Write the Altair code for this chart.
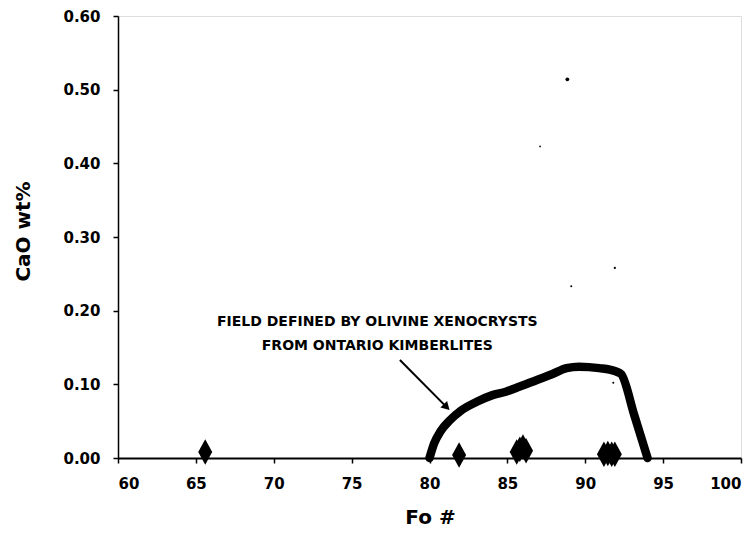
import altair as alt
import pandas as pd

# Field outline (olivine xenocrysts from Ontario kimberlites)
field_fo = [80.0, 80.3, 80.7, 81.3, 82.0, 83.0, 84.0, 84.9, 85.8, 86.9, 87.9, 88.8, 89.6, 90.9, 91.9, 92.3, 93.15, 94.0]
field_cao = [0.0, 0.020, 0.036, 0.051, 0.064, 0.076, 0.085, 0.090, 0.097, 0.106, 0.114, 0.122, 0.124, 0.122, 0.118, 0.114, 0.058, 0.0]

# Olivine analyses (diamonds)
pts_fo = [65.6, 81.9, 85.6, 85.8, 86.0, 86.2, 91.2, 91.45, 91.7, 91.9]
pts_cao = [0.008, 0.004, 0.008, 0.012, 0.015, 0.010, 0.005, 0.006, 0.005, 0.005]

# Small specks visible on the figure
speck_fo = [88.85, 91.9, 89.1, 87.1, 91.8]
speck_cao = [0.514, 0.258, 0.233, 0.423, 0.102]
speck_size = [14, 5, 4, 3, 4]

# Annotation
label_lines = ["FIELD DEFINED BY OLIVINE XENOCRYSTS", "FROM ONTARIO KIMBERLITES"]
label_fo = [76.65, 76.65]
label_cao = [0.185, 0.152]
arrow_fo = [78.1, 81.1]
arrow_cao = [0.133, 0.069]

x_ticks = [60, 65, 70, 75, 80, 85, 90, 95, 100]
y_ticks = [0.0, 0.1, 0.2, 0.3, 0.4, 0.5, 0.6]

FONT = "DejaVu Sans"

xs = alt.Scale(domain=[60, 100], nice=False, zero=False)
ys = alt.Scale(domain=[0, 0.6], nice=False)

x_axis = alt.Axis(values=x_ticks, format="d", title="Fo #", labelFont=FONT, labelFontWeight="bold",
                  labelFontSize=15, labelColor="black", labelPadding=13, tickSize=5, tickColor="black",
                  tickWidth=1.5, domainColor="black", domainWidth=2, grid=False, titleFont=FONT,
                  titleFontWeight="bold", titleFontSize=20, titleColor="black", titleX=312, titleY=59,
                  titleBaseline="middle", titleAlign="center")
y_axis = alt.Axis(values=y_ticks, format=".2f", title="CaO wt%", labelFont=FONT, labelFontWeight="bold",
                  labelFontSize=15, labelColor="black", labelPadding=13, tickSize=5, tickColor="black",
                  tickWidth=1.5, domainColor="black", domainWidth=1.5, grid=False, titleFont=FONT,
                  titleFontWeight="bold", titleFontSize=20, titleColor="black", titleX=-95, titleY=215,
                  titleAngle=270, titleBaseline="middle", titleAlign="center")

field_df = pd.DataFrame({"fo": field_fo, "cao": field_cao, "i": list(range(len(field_fo)))})
pts_df = pd.DataFrame({"fo": pts_fo, "cao": pts_cao})
speck_df = pd.DataFrame({"fo": speck_fo, "cao": speck_cao, "s": speck_size})
label_df = pd.DataFrame({"fo": label_fo, "cao": label_cao, "t": label_lines})
arrow_df = pd.DataFrame({"fo": arrow_fo, "cao": arrow_cao, "i": [0, 1]})
head_df = arrow_df.iloc[[1]]

field = alt.Chart(field_df).mark_line(color="black", strokeWidth=8.5, strokeCap="round", strokeJoin="round",
                                      interpolate="monotone").encode(
    x=alt.X("fo:Q", scale=xs, axis=x_axis),
    y=alt.Y("cao:Q", scale=ys, axis=y_axis),
    order="i:Q",
)

diamond_path = "M0,-1L0.55,0L0,1L-0.55,0Z"
diamonds = alt.Chart(pts_df).mark_point(shape=diamond_path, filled=True, color="black", opacity=1, size=650).encode(
    x=alt.X("fo:Q", scale=xs), y=alt.Y("cao:Q", scale=ys)
)

specks = alt.Chart(speck_df).mark_circle(color="black", opacity=1).encode(
    x=alt.X("fo:Q", scale=xs), y=alt.Y("cao:Q", scale=ys),
    size=alt.Size("s:Q", scale=None, legend=None),
)

arrow = alt.Chart(arrow_df).mark_line(color="black", strokeWidth=2).encode(
    x=alt.X("fo:Q", scale=xs), y=alt.Y("cao:Q", scale=ys), order="i:Q"
)
head = alt.Chart(head_df).mark_point(shape="triangle-up", filled=True, color="black", opacity=1,
                                     size=90, angle=135).encode(
    x=alt.X("fo:Q", scale=xs), y=alt.Y("cao:Q", scale=ys)
)

labels = alt.Chart(label_df).mark_text(font=FONT, fontWeight="bold", fontSize=14, color="black",
                                       align="center", baseline="middle").encode(
    x=alt.X("fo:Q", scale=xs), y=alt.Y("cao:Q", scale=ys), text="t:N"
)

chart = (
    alt.layer(field, arrow, head, labels, specks, diamonds)
    .properties(width=623, height=442, autosize=alt.AutoSizeParams(type="none"),
                padding={"left": 110, "top": 8, "right": 6, "bottom": 69})
    .configure_view(stroke="black", strokeWidth=1.5)
    .configure(background="white")
)

chart.save("out.html", embed_options={"renderer": "svg", "actions": False})
